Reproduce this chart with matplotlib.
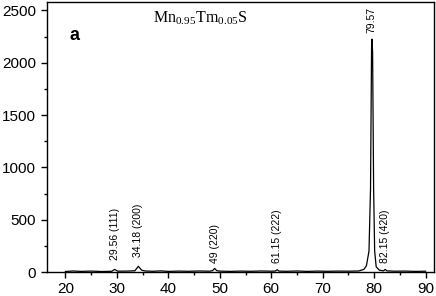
import matplotlib
matplotlib.use('Agg')
import matplotlib.pyplot as plt
from matplotlib.ticker import MultipleLocator

# XRD pattern (2theta in degrees, intensity in counts)
two_theta = [20.0, 21.5, 23.0, 25.0, 27.0, 29.0, 29.56, 30.2, 32.0, 33.5,
             34.18, 34.8, 35.5, 37.0, 38.5, 40.0, 42.0, 44.0, 46.0, 48.0,
             48.6, 49.0, 49.4, 50.0, 52.0, 54.0, 56.0, 58.0, 60.0, 60.8,
             61.15, 61.5, 63.0, 65.0, 67.0, 69.0, 71.0, 73.0, 75.0, 77.0,
             78.0, 78.5, 79.0, 79.3, 79.5, 79.57, 79.7, 79.9, 80.1, 80.4,
             81.0, 81.8, 82.15, 82.5, 84.0, 86.0, 88.0, 90.0]
intensity = [5, 10, 6, 9, 5, 7, 25, 8, 9, 12,
             55, 18, 10, 7, 11, 6, 9, 7, 10, 8,
             13, 35, 13, 9, 6, 9, 7, 10, 8, 9,
             22, 9, 7, 10, 6, 9, 7, 9, 8, 10,
             25, 60, 200, 800, 2150, 2225, 2100, 800, 200, 50,
             18, 11, 25, 11, 8, 9, 6, 8]

# peak annotations
peak_pos = [29.56, 34.18, 49.0, 61.15, 82.15]
peak_labels = ['29.56 (111)', '34.18 (200)', '49 (220)', '61.15 (222)', '82.15 (420)']
label_y = [115, 145, 85, 90, 90]
main_pos = 79.57
main_label = '79.57'

plt.rcParams['font.family'] = ['Liberation Sans', 'DejaVu Sans']
plt.rcParams['mathtext.fontset'] = 'custom'
plt.rcParams['mathtext.rm'] = 'Liberation Serif'

fig = plt.figure(figsize=(4.36, 2.96), dpi=100)
ax = fig.add_axes([0.107, 0.081, 0.888, 0.912])

ax.plot(two_theta, intensity, color='black', linewidth=0.9)

for x, lab, y in zip(peak_pos, peak_labels, label_y):
    ax.text(x, y, lab, rotation=90, ha='center', va='bottom', fontsize=7.5)
ax.text(main_pos, 2280, main_label, rotation=90, ha='center', va='bottom', fontsize=7.5)

ax.set_xlim(16.35, 91.6)
ax.set_ylim(0, 2579)
ax.xaxis.set_major_locator(MultipleLocator(10))
ax.xaxis.set_minor_locator(MultipleLocator(5))
ax.yaxis.set_major_locator(MultipleLocator(500))
ax.yaxis.set_minor_locator(MultipleLocator(250))
ax.tick_params(which='both', direction='out', labelsize=11, width=1)
ax.tick_params(which='major', length=4)
ax.tick_params(which='minor', length=2)
for s in ax.spines.values():
    s.set_linewidth(1)

ax.text(0.396, 0.975, r'$\mathrm{Mn}_{0.95}\mathrm{Tm}_{0.05}\mathrm{S}$',
        transform=ax.transAxes, ha='center', va='top', fontsize=11.5)
ax.text(0.06, 0.875, 'a', transform=ax.transAxes, ha='left', va='center',
        fontsize=13, fontweight='bold')

plt.savefig('out.png', dpi=100)
plt.close()
